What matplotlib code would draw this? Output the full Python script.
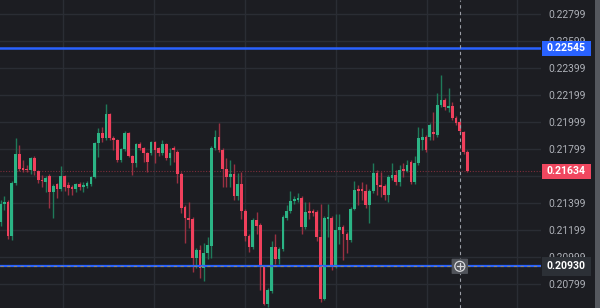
import numpy as np
import matplotlib
matplotlib.use("Agg")
import matplotlib.pyplot as plt
from matplotlib.patches import Rectangle, Circle, FancyBboxPatch
from matplotlib.transforms import blended_transform_factory

# OHLC values in 1e-5 units (price * 100000)
opens = [21258, 21392, 21407, 21155, 21547, 21762, 21659, 21651, 21644, 21733,
         21636, 21570, 21555, 21599, 21481, 21540, 21503, 21599, 21533, 21518,
         21503, 21540, 21518, 21525, 21540, 21592, 21844, 21918, 21881, 22058,
         21881, 21866, 21718, 21799, 21918, 21747, 21695, 21836, 21807, 21770,
         21770, 21851, 21807, 21770, 21836, 21733, 21807, 21777, 21614, 21370,
         21288, 21281, 20992, 21051, 20918, 21029, 21081, 21807, 21888, 21792,
         21651, 21592, 21614, 21451, 21540, 21340, 21155, 21073, 21273, 21236,
         20925, 20651, 20747, 21073, 20984, 21059, 21288, 21340, 21414, 21421,
         21436, 21221, 21340, 21340, 21333, 21147, 20688, 21281, 21288, 20933,
         21199, 21221, 21170, 21125, 21355, 21503, 21503, 21488, 21384, 21488,
         21621, 21533, 21525, 21458, 21584, 21607, 21555, 21651, 21636, 21703,
         21555, 21695, 21866, 21888, 21888, 21925, 21903, 22125, 22162, 22103,
         22118, 22029, 21999, 21925, 21777]
closes = [21392, 21407, 21155, 21547, 21762, 21651, 21644, 21644, 21733, 21636,
          21570, 21562, 21584, 21481, 21525, 21503, 21599, 21518, 21510, 21503,
          21540, 21518, 21533, 21547, 21592, 21844, 21918, 21881, 22058, 21881,
          21866, 21718, 21799, 21918, 21747, 21695, 21836, 21807, 21770, 21703,
          21851, 21792, 21770, 21836, 21733, 21770, 21792, 21614, 21362, 21288,
          21273, 20992, 21051, 20918, 21029, 21088, 21807, 21888, 21792, 21651,
          21592, 21614, 21451, 21540, 21340, 21155, 21073, 21273, 21229, 20925,
          20651, 20755, 21073, 20984, 21059, 21296, 21340, 21414, 21429, 21436,
          21221, 21333, 21325, 21325, 21147, 20688, 21288, 21296, 20933, 21199,
          21221, 21170, 21125, 21355, 21496, 21488, 21488, 21384, 21488, 21621,
          21533, 21518, 21458, 21592, 21607, 21555, 21644, 21636, 21681, 21555,
          21695, 21881, 21888, 21792, 21977, 21910, 22125, 22162, 22110, 22118,
          22029, 21992, 21933, 21777, 21634]
highs = [21421, 21451, 21421, 21562, 21881, 21829, 21718, 21681, 21740, 21747,
         21644, 21607, 21599, 21614, 21540, 21547, 21673, 21607, 21555, 21533,
         21547, 21555, 21555, 21562, 21599, 21851, 21955, 21962, 22132, 22066,
         21896, 21873, 21807, 21933, 21925, 21755, 21844, 21851, 21814, 21777,
         21858, 21858, 21814, 21866, 21844, 21807, 21821, 21792, 21629, 21384,
         21407, 21296, 21066, 21088, 21103, 21147, 21821, 21940, 21992, 21807,
         21733, 21718, 21688, 21621, 21629, 21355, 21170, 21288, 21333, 21251,
         20940, 20770, 21118, 21170, 21073, 21310, 21384, 21488, 21451, 21473,
         21451, 21407, 21407, 21355, 21347, 21392, 21303, 21392, 21303, 21318,
         21318, 21236, 21184, 21370, 21562, 21533, 21555, 21540, 21503, 21695,
         21644, 21629, 21540, 21607, 21695, 21644, 21681, 21695, 21718, 21718,
         21747, 21962, 21955, 21903, 21992, 22073, 22214, 22347, 22177, 22251,
         22147, 22044, 22006, 21933, 21792]
lows = [21229, 21347, 21133, 21125, 21533, 21636, 21629, 21629, 21614, 21607,
        21547, 21518, 21481, 21362, 21288, 21436, 21488, 21488, 21458, 21458,
        21481, 21496, 21481, 21510, 21525, 21584, 21740, 21851, 21866, 21866,
        21792, 21703, 21703, 21784, 21740, 21607, 21666, 21792, 21703, 21629,
        21755, 21695, 21747, 21755, 21718, 21681, 21703, 21547, 21325, 21103,
        21214, 20888, 20918, 20844, 20822, 20984, 20992, 21792, 21777, 21518,
        21518, 21518, 21421, 21421, 21281, 21118, 21036, 21059, 21170, 20755,
        20644, 20629, 20733, 20947, 20947, 21044, 21273, 21325, 21392, 21407,
        21170, 21207, 21281, 21303, 21118, 20666, 20681, 21147, 20903, 20918,
        21095, 20977, 21029, 21110, 21347, 21384, 21421, 21362, 21251, 21473,
        21458, 21444, 21421, 21407, 21570, 21533, 21525, 21592, 21629, 21540,
        21540, 21681, 21792, 21777, 21866, 21866, 21888, 22110, 22088, 22073,
        22014, 21977, 21918, 21762, 21629]

price_ticks = [0.20799, 0.20999, 0.21199, 0.21399, 0.21599, 0.21799,
               0.21999, 0.22199, 0.22399, 0.22599, 0.22799]
tick_labels = ["0.20799", "0.20999", "0.21199", "0.21399", "", "0.21799",
               "0.21999", "0.22199", "0.22399", "0.22599", "0.22799"]
time_grid = [16.6, 40.8, 64.9, 89.1, 113.3, 137.2]
upper_level = 0.22545
lower_level = 0.20930
last_price = 0.21634
crosshair_bar = 122

o = np.array(opens) / 1e5
c = np.array(closes) / 1e5
h = np.array(highs) / 1e5
l = np.array(lows) / 1e5
x = np.arange(len(o))

BG = "#1c1d22"
GRID = "#2a2d34"
UP = "#2bb485"
DOWN = "#f0405c"
UP_W = "#1f7a5a"
DOWN_W = "#9a3142"

W, H = 600, 308
fig = plt.figure(figsize=(W / 100, H / 100), dpi=100, facecolor=BG)
ax = fig.add_axes([0, 0, 541 / W, 1])
ax.set_facecolor(BG)

px_per_unit = 3.765
ax.set_xlim(-0.5 / px_per_unit, (541 - 0.5) / px_per_unit)
YMIN, YMAX = 0.206213, 0.229027
ax.set_ylim(YMIN, YMAX)

for s in ax.spines.values():
    s.set_visible(False)

# grid
for p in price_ticks:
    ax.axhline(p, color=GRID, lw=1.0, zorder=0)
for t in time_grid:
    ax.axvline(t, color=GRID, lw=1.0, zorder=0)

up = c >= o
body_col = np.where(up, UP, DOWN)
wick_col = np.where(up, UP_W, DOWN_W)
ax.vlines(x, l, h, colors=wick_col, lw=1.0, zorder=2)
bh = c - o
minh = 0.0000085
bh = np.where(np.abs(bh) < minh, np.where(bh >= 0, minh, -minh), bh)
ax.bar(x, bh, bottom=o, width=0.72, color=body_col, linewidth=0, zorder=3)

# horizontal levels
ax.axhline(upper_level, color="#2962ff", lw=1.8, zorder=4)
ax.axhline(lower_level, color="#2962ff", lw=1.6, zorder=4)
ax.axhline(lower_level + 0.000009, color="#8a8478", lw=0.8, ls=(0, (3, 3)), zorder=5)
ax.axhline(last_price, color="#7c2d3a", lw=0.8, ls=(0, (1, 1.5)), zorder=1)

# crosshair
ax.axvline(crosshair_bar, color="#9a9da5", lw=0.8, ls=(0, (3, 3)), zorder=6)

# y axis on right
ax.yaxis.tick_right()
ax.set_yticks(price_ticks)
ax.set_yticklabels(tick_labels)
ax.tick_params(axis="y", length=0, pad=5.5, labelsize=7.4, labelcolor="#aeb1b8")
for lab in ax.get_yticklabels():
    lab.set_fontfamily("Roboto")
ax.set_xticks([])

# price tags (figure level, drawn over the axis labels)
def yfig(price):
    return (price - YMIN) / (YMAX - YMIN)

def tag(price, color, hpx):
    yc = yfig(price)
    r = Rectangle((541.7 / W, yc - hpx / 2 / H), (590.7 - 541.7) / W, hpx / H,
                  transform=fig.transFigure, facecolor=color, edgecolor="none",
                  zorder=10)
    fig.patches.append(r)
    fig.text(566 / W, yc, f"{price:.5f}", color="white",
             fontsize=7.6, fontfamily="Roboto", fontweight="bold",
             ha="center", va="center", zorder=11)

tag(upper_level, "#2962ff", 15)
tag(last_price, "#f0475f", 15)
tag(lower_level, "#2c3036", 19)

# plus icon at crosshair / lower level
pt = ax.transData.transform((crosshair_bar, lower_level))
fx, fy = pt[0] / W, pt[1] / H
box = FancyBboxPatch((fx - 7 / W, fy - 7 / H), 14 / W, 14 / H,
                     boxstyle="round,pad=0.002", transform=fig.transFigure,
                     facecolor="#50535a", edgecolor="none", zorder=12)
fig.patches.append(box)
circ = Circle((pt[0], pt[1]), 5.0, transform=None, facecolor="none",
              edgecolor="#d8d9dc", lw=0.9, zorder=13)
fig.patches.append(circ)
fig.lines.append(plt.Line2D([fx - 3 / W, fx + 3 / W], [fy, fy], transform=fig.transFigure,
                            color="#d8d9dc", lw=0.9, zorder=13))
fig.lines.append(plt.Line2D([fx, fx], [fy - 3 / H, fy + 3 / H], transform=fig.transFigure,
                            color="#d8d9dc", lw=0.9, zorder=13))

# scrollbar strip at far right
fig.patches.append(Rectangle((595 / W, 0), 5 / W, 1, transform=fig.transFigure,
                             facecolor="#55585e", edgecolor="none", zorder=9))

fig.savefig("out.png", dpi=100, facecolor=BG)
